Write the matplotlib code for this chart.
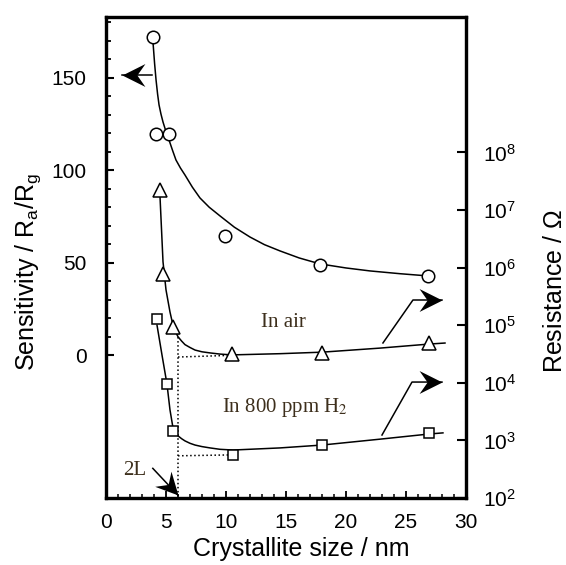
import matplotlib.pyplot as plt
import numpy as np
from matplotlib.markers import MarkerStyle
from matplotlib.path import Path
from matplotlib.transforms import Affine2D

plt.rcParams['font.family'] = ['Liberation Sans', 'DejaVu Sans']
plt.rcParams['mathtext.fontset'] = 'custom'
plt.rcParams['mathtext.rm'] = 'Liberation Sans'
plt.rcParams['mathtext.it'] = 'Liberation Sans'

# sensitivity (left axis)
size_sens = [3.9, 4.2, 5.25, 9.9, 17.8, 26.8]
sensitivity = [172, 119.5, 119.5, 64.5, 49, 43]
curve_sens_x = [3.92, 4.05, 4.17, 4.3, 4.42, 4.58, 4.75, 5.0, 5.25, 5.55, 5.83, 6.2, 6.58,
                7.2, 7.83, 8.6, 9.5, 10.7, 12.0, 13.2, 14.5, 16.1, 17.83, 20.0, 22.0, 24.5, 26.83]
curve_sens_y = [168.7, 157.5, 148.7, 141.0, 135.2, 130.3, 126.0, 120.8, 116.3, 110.6, 105.5,
                101.2, 97.4, 90.8, 85.0, 80.0, 75.3, 69.2, 63.9, 59.8, 56.4, 52.6, 49.4, 47.2,
                45.6, 44.1, 42.9]

# resistance in air (right axis)
size_air = [4.5, 4.75, 5.6, 10.5, 18.0, 26.9]
res_air = [2.2e7, 7.8e5, 9.3e4, 3.2e4, 3.3e4, 4.9e4]
curve_air_x = [4.5, 4.75, 5.0, 5.33, 5.58, 5.8, 6.0, 6.3, 6.58, 7.0, 7.42, 8.0, 8.67, 9.5,
               10.5, 14.5, 18.0, 22.83, 26.92, 28.25]
curve_air_y = [1.7e7, 1.26e6, 4.1e5, 1.7e5, 1.0e5, 7.6e4, 6.3e4, 5.3e4, 4.6e4, 4.1e4, 3.7e4,
               3.45e4, 3.3e4, 3.15e4, 3.05e4, 3.2e4, 3.4e4, 4.0e4, 4.7e4, 4.9e4]

# resistance in 800 ppm H2 (right axis)
size_h2 = [4.25, 5.1, 5.6, 10.6, 18.0, 26.9]
res_h2 = [1.3e5, 9.5e3, 1.45e3, 5.6e2, 8.3e2, 1.35e3]
curve_h2_x = [4.25, 4.67, 5.08, 5.33, 5.58, 5.8, 6.0, 6.3, 6.58, 7.0, 7.42, 8.0, 8.67, 9.5,
              10.58, 14.5, 18.0, 22.83, 26.92, 28.08]
curve_h2_y = [1.0e5, 3.0e4, 9.5e3, 3.4e3, 1.66e3, 1.36e3, 1.2e3, 1.07e3, 9.8e2, 8.9e2, 8.3e2,
              7.8e2, 7.4e2, 7.0e2, 6.8e2, 7.4e2, 8.3e2, 1.05e3, 1.29e3, 1.35e3]

two_L = 6.0

x_ticklabels = ['0', '5', '10', '15', '20', '25', '30']
ink = '#3d2f1c'

fig = plt.figure(figsize=(5.66, 5.65), dpi=100)
ax = fig.add_axes([0.1873, 0.1186, 0.636, 0.8513])
ax2 = ax.twinx()

# left axis: sensitivity
ax.plot(curve_sens_x, curve_sens_y, color='black', lw=1.1, zorder=2)
ax.plot(size_sens, sensitivity, 'o', ms=9, mfc='white', mec='black', mew=1.1, zorder=3)
ax.set_xlim(0, 30)
ax.set_ylim(-77, 182.7)

# right axis: resistance
ax2.set_yscale('log')
ax2.plot(curve_air_x, curve_air_y, color='black', lw=1.1, zorder=2)
ax2.plot(curve_h2_x, curve_h2_y, color='black', lw=1.1, zorder=2)
ax2.plot(size_air, res_air, '^', ms=10.5, mfc='white', mec='black', mew=1.1, zorder=3)
ax2.plot(size_h2, res_h2, 's', ms=7, mfc='white', mec='black', mew=1.1, zorder=3)
ax2.set_ylim(1e2, 10**10.35)

# dotted guides at 2L
ax2.plot([two_L, two_L], [7.2e4, 1e2], ls=':', color='black', lw=1.1)
ax2.plot([two_L, 10.5], [2.8e4, 3.0e4], ls=':', color='black', lw=1.1)
ax2.plot([two_L, 10.5], [5.4e2, 5.6e2], ls=':', color='black', lw=1.1)

# arrowheads
head = Path([(0, 0), (-1, 0.5), (-0.65, 0), (-1, -0.5), (0, 0)],
            [Path.MOVETO, Path.LINETO, Path.LINETO, Path.LINETO, Path.CLOSEPOLY])


def arrow(xs, ys, angle, ms=33):
    ax.plot(xs, ys, color='black', lw=1.1, zorder=4)
    ax.plot(xs[-1], ys[-1], marker=MarkerStyle(head, transform=Affine2D().rotate_deg(angle)),
            ms=ms, color='black', mew=0, zorder=5)


arrow([3.83, 1.33], [151.4, 151.4], 180)
arrow([23.08, 25.58, 28.0], [6.7, 29.9, 29.9], 0)
arrow([23.0, 25.5, 28.0], [-43.0, -14.4, -14.4], 0)
arrow([3.9, 6.0], [-61.0, -75.5], -47, ms=32)

ax.text(14.75, 17.5, 'In air', family='Liberation Serif', fontsize=15, color=ink,
        ha='center', va='center')
ax.text(14.9, -28.4, 'In 800 ppm H$_2$', family='Liberation Serif', fontsize=15, color=ink,
        ha='center', va='center', math_fontfamily='stix')
ax.text(2.4, -61.9, '2L', family='Liberation Serif', fontsize=15, color=ink,
        ha='center', va='center')

# ticks
ax.set_xticks([0, 5, 10, 15, 20, 25, 30])
ax.set_xticklabels(x_ticklabels)
ax.set_xticks(np.arange(1, 30), minor=True)
ax.set_yticks([0, 50, 100, 150])
ax.set_yticks([v for v in range(10, 181, 10) if v % 50], minor=True)
ax.tick_params(axis='x', which='major', direction='in', length=5, width=1.3, labelsize=15, pad=11)
ax.tick_params(axis='x', which='minor', direction='in', length=3, width=1.1)
ax.tick_params(axis='y', which='major', direction='in', length=6, width=1.5, labelsize=15, pad=14,
               right=False)
ax.tick_params(axis='y', which='minor', direction='in', length=3.5, width=1.3, right=False)

ax2.set_yticks([1e2, 1e3, 1e4, 1e5, 1e6, 1e7, 1e8])
ax2.yaxis.set_minor_locator(plt.NullLocator())
ax2.tick_params(axis='y', which='major', direction='in', length=6.5, width=1.5, labelsize=15, pad=12)

for a in (ax, ax2):
    for s in a.spines.values():
        s.set_linewidth(2.3)

ax.set_xlabel('Crystallite size / nm', fontsize=18)
ax.xaxis.set_label_coords(0.542, -0.082)
ax.set_ylabel('Sensitivity / R$_a$/R$_g$', fontsize=18)
ax.yaxis.set_label_coords(-0.175, 0.47)
ax2.set_ylabel('Resistance / $\\Omega$', fontsize=18)
ax2.yaxis.set_label_coords(1.215, 0.43)

fig.savefig('out.png', dpi=100)
